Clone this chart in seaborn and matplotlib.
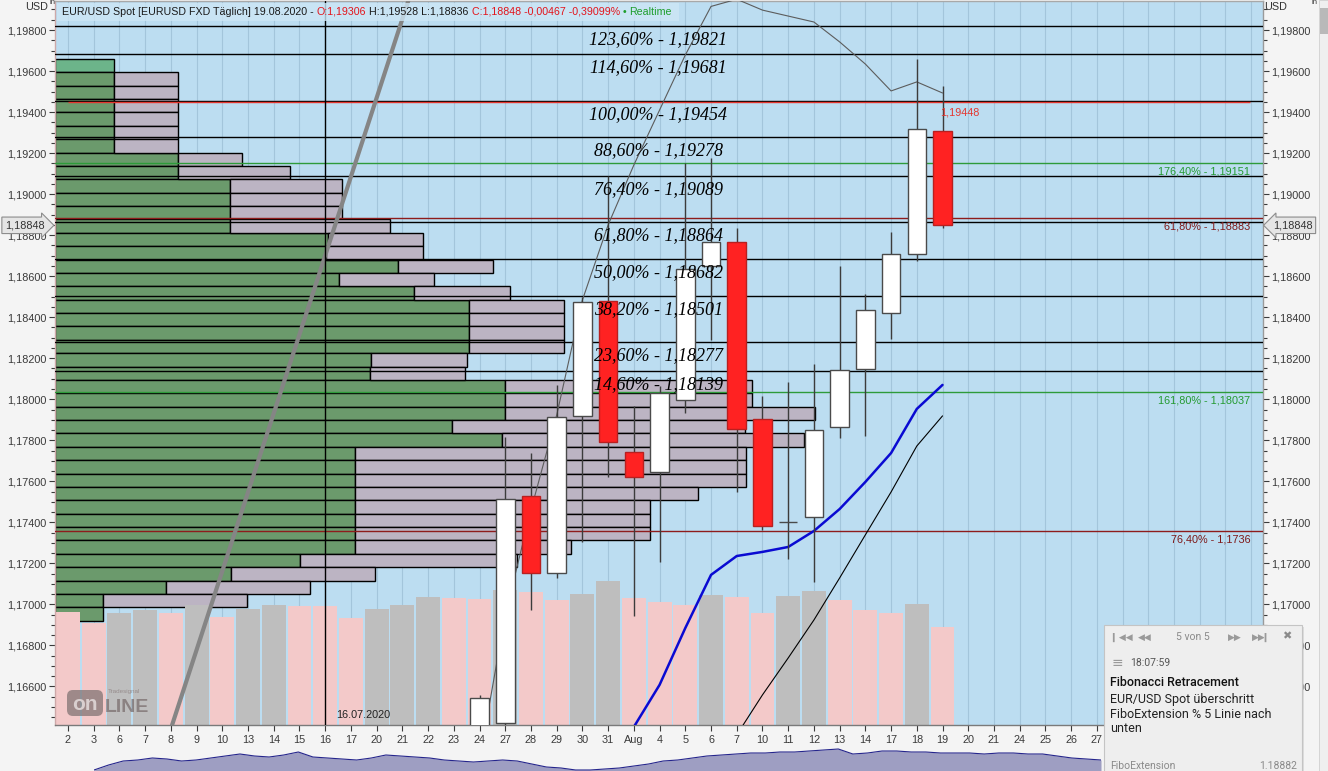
import matplotlib
matplotlib.use("Agg")
import matplotlib.pyplot as plt
import matplotlib.transforms as mtransforms
from matplotlib.patches import Rectangle, FancyBboxPatch
from matplotlib.ticker import MultipleLocator, FuncFormatter
import seaborn as sns

# ---------------- data ----------------
day_labels = ['2', '3', '6', '7', '8', '9', '10', '13', '14', '15', '16', '17', '20', '21', '22', '23',
              '24', '27', '28', '29', '30', '31', 'Aug', '4', '5', '6', '7', '10', '11', '12', '13', '14',
              '17', '18', '19', '20', '21', '24', '25', '26', '27', '28', '31', 'Sep', '2', '3', '4']

# daily candles 24.07. - 19.08.2020
candle_idx = list(range(16, 35))
opens = [1.15950, 1.16420, 1.17530, 1.17152, 1.17918, 1.18479, 1.17743, 1.17645, 1.17996, 1.18650,
         1.18767, 1.17904, 1.17402, 1.17426, 1.17865, 1.18148, 1.18421, 1.18710, 1.19306]
highs = [1.16558, 1.17816, 1.17738, 1.18070, 1.18499, 1.19088, 1.17967, 1.18065, 1.19152, 1.19176,
         1.18835, 1.18016, 1.18084, 1.18172, 1.18650, 1.18513, 1.18817, 1.19659, 1.19528]
lows = [1.15920, 1.16400, 1.16973, 1.17129, 1.17306, 1.17623, 1.16945, 1.17208, 1.17933, 1.18289,
        1.17548, 1.17363, 1.17221, 1.17109, 1.17811, 1.17821, 1.18294, 1.18672, 1.18836]
closes = [1.16544, 1.17512, 1.17152, 1.17915, 1.18474, 1.17790, 1.17621, 1.18031, 1.18635, 1.18767,
          1.17855, 1.17382, 1.17402, 1.17850, 1.18143, 1.18433, 1.18710, 1.19317, 1.18848]

# daily volume 02.07. - 19.08.
volume = [113, 102, 112, 115, 112, 120, 108, 116, 120, 119.5, 119, 107, 116, 120, 128, 127, 126, 135,
          133, 125, 131, 144, 127, 123, 120, 130, 128, 112, 129, 134, 125, 115, 112, 121, 98]

# volume profile, 42 price bins from the top (1,19659) to the bottom (1,16921)
profile_top = 1.19659
profile_bottom = 1.16921
profile_green = [59, 59, 59, 59, 59, 59, 59, 123, 123, 175, 175, 175, 175, 273, 271, 343, 284, 359,
                 414, 414, 414, 414, 316, 315, 450, 450, 450, 397, 447, 300, 300, 300, 300, 300, 300,
                 300, 300, 245, 176, 111, 48, 48]
profile_grey = [0, 64, 64, 64, 64, 64, 64, 64, 112, 112, 112, 112, 160, 95, 97, 95, 95, 96,
                95, 95, 95, 95, 96, 95, 247, 247, 310, 293, 302, 391, 391, 391, 343, 295, 295,
                295, 216, 217, 144, 144, 144, 0]

# Fibonacci retracement
fib_levels = [1.19821, 1.19681, 1.19454, 1.19278, 1.19089, 1.18864, 1.18682, 1.18501, 1.18277, 1.18139]
fib_pcts = ['123,60%', '114,60%', '100,00%', '88,60%', '76,40%', '61,80%', '50,00%', '38,20%',
            '23,60%', '14,60%']
# Fibonacci extension (green) and second retracement (dark red)
ext_levels = [1.19151, 1.18037]
ext_labels = ['176,40% - 1,19151', '161,80% - 1,18037']
ret_levels = [1.18883, 1.17360]
ret_labels = ['61,80% - 1,18883', '76,40% - 1,1736']
alert_level = 1.19448
last_close = 1.18848

# indicator lines
upper_idx = list(range(16, 35))
upper_vals = [1.16242, 1.16949, 1.17460, 1.17923, 1.18484, 1.18850, 1.19142, 1.19410, 1.19678, 1.19915,
              1.19950, 1.19897, 1.19868, 1.19839, 1.19742, 1.19634, 1.19503, 1.19547, 1.19493]
blue_idx = list(range(22, 35))
blue_vals = [1.16403, 1.16608, 1.16885, 1.17144, 1.17236, 1.17256, 1.17280, 1.17358, 1.17465, 1.17597,
             1.17738, 1.17953, 1.18070]
black_idx = list(range(26, 35))
black_vals = [1.16364, 1.16559, 1.16739, 1.16924, 1.17129, 1.17339, 1.17548, 1.17772, 1.17919]
trend_idx = [4, 13]
trend_vals = [1.16394, 1.19854]

# overview strip at the bottom
nav_vals = [1, 6, 10, 11, 13, 12, 10, 11, 13, 15, 17, 15, 14, 16, 19, 14, 13, 12, 11, 13, 16, 15, 14,
            13, 11, 10, 9, 10, 11, 10, 7, 4, 3, 1, 1, 2, 3, 5, 7, 10, 11, 13, 15, 16, 17, 18, 18, 19,
            19, 20, 21, 22, 17, 18, 20, 20, 19, 19, 18, 18, 18, 17, 18, 18, 17, 17, 15, 13, 12, 11]

# ---------------- style ----------------
sns.set_theme(style='white')
plt.rcParams['font.family'] = ['Liberation Sans', 'DejaVu Sans']
plt.rcParams['axes.linewidth'] = 1.0

W, H = 1328, 771
fig = plt.figure(figsize=(W / 100, H / 100), dpi=100, facecolor='#F4F4F4')
PW, PH = 1207.5, 724
ax = fig.add_axes([55 / W, 46 / H, PW / W, PH / H])
ax.set_facecolor('#BCDDF1')

ax.set_xlim(-0.505, 46.44)
ax.set_ylim(1.164122, 1.199414)

# grid at every trading day
ax.set_xticks(range(len(day_labels)))
ax.set_xticklabels(day_labels)
ax.grid(axis='x', color='#A3C5DB', lw=0.8)
ax.set_axisbelow(True)

# volume profile (width in pixels of the plot)
n_bins = len(profile_green)
bin_h = (profile_top - profile_bottom) / n_bins
centers = [profile_top - bin_h * (k + 0.5) for k in range(n_bins)]
prof_tr = mtransforms.blended_transform_factory(
    mtransforms.Affine2D().scale(1 / PW, 1) + ax.transAxes, ax.transData)
green_cols = ['#6CB48A'] + ['#6B9A6C'] * (n_bins - 1)
ax.barh(centers, profile_green, height=bin_h, left=0, color=green_cols, edgecolor='black',
        linewidth=1, transform=prof_tr, zorder=1)
ax.barh(centers, profile_grey, height=bin_h, left=profile_green, color='#BCB4C3',
        edgecolor=['none' if g == 0 else 'black' for g in profile_grey], linewidth=1,
        transform=prof_tr, zorder=1)

# volume bars, grey when volume rises, pink when it falls
vol_tr = mtransforms.blended_transform_factory(
    ax.transData, mtransforms.Affine2D().scale(1, 1 / PH) + ax.transAxes)
vol_cols = ['#F3C9C9'] + ['#BEBEBE' if volume[k] > volume[k - 1] else '#F3C9C9'
                          for k in range(1, len(volume))]
ax.bar(range(len(volume)), volume, width=0.93, bottom=0, color=vol_cols, edgecolor='none',
       linewidth=0, transform=vol_tr, zorder=1.5)

# horizontal levels
for p in fib_levels:
    ax.axhline(p, color='black', lw=1, zorder=3)
for p in ext_levels:
    ax.axhline(p, color='#2E9B3A', lw=1, zorder=3)
for p in ret_levels:
    ax.axhline(p, color='#8E1C1C', lw=1, zorder=3)
ax.hlines(alert_level, 0, 45.96, color='#E5362F', lw=1, zorder=3)

# crosshair
ax.axvline(10, color='black', lw=1, zorder=3.5)

# trend line and indicators
ax.axline((trend_idx[0], trend_vals[0]), (trend_idx[1], trend_vals[1]), color='#858585', lw=3,
          zorder=3.4)
sns.lineplot(x=upper_idx, y=upper_vals, ax=ax, color='#5C5C5C', lw=0.8, zorder=3.3)
sns.lineplot(x=black_idx, y=black_vals, ax=ax, color='black', lw=0.8, zorder=3.3)
sns.lineplot(x=blue_idx, y=blue_vals, ax=ax, color='#0A0AD2', lw=1.8, zorder=3.3)

# candles
ax.vlines(candle_idx, lows, highs, color='#3C3C3C', lw=1, zorder=4)
bottoms = [min(o, c) for o, c in zip(opens, closes)]
heights = [max(abs(c - o), 0.00002) for o, c in zip(opens, closes)]
fills = ['white' if c >= o else '#FF2222' for o, c in zip(opens, closes)]
edges = ['#4A4A4A' if c >= o else '#B82020' for o, c in zip(opens, closes)]
ax.bar(candle_idx, heights, bottom=bottoms, width=0.72, color=fills, edgecolor=edges, lw=1, zorder=5)

# level labels
fib_tr = mtransforms.offset_copy(ax.transData, fig=fig, x=0, y=-13.5, units='dots')
for p, pct in zip(fib_levels, fib_pcts):
    ax.text(22.94, p, f'{pct} - {p:.5f}'.replace('.', ','), transform=fib_tr, ha='center', va='center',
            fontsize=13, style='italic', family=['Liberation Serif', 'DejaVu Serif'], color='black',
            zorder=6)
small_tr = mtransforms.offset_copy(ax.transData, fig=fig, x=0, y=-8.5, units='dots')
for p, lab in zip(ext_levels, ext_labels):
    ax.text(45.96, p, lab, transform=small_tr, ha='right', va='center', fontsize=7.8, color='#239A30',
            zorder=6)
for p, lab in zip(ret_levels, ret_labels):
    ax.text(45.96, p, lab, transform=small_tr, ha='right', va='center', fontsize=7.8, color='#7E1818',
            zorder=6)
alert_tr = mtransforms.offset_copy(ax.transData, fig=fig, x=0, y=-10, units='dots')
ax.text(33.9, alert_level, f'{alert_level:.5f}'.replace('.', ','), transform=alert_tr, ha='left',
        va='center', fontsize=7.8, color='#E5362F', zorder=6)

date_tr = mtransforms.offset_copy(
    mtransforms.blended_transform_factory(ax.transData, ax.transAxes), fig=fig, x=11, y=10, units='dots')
ax.text(10, 0, '16.07.2020', transform=date_tr, ha='left', va='center', fontsize=7.8, color='#222222',
        zorder=6)

# axes styling
ax.yaxis.set_major_locator(MultipleLocator(0.002))
ax.yaxis.set_minor_locator(MultipleLocator(0.0005))
ax.yaxis.set_major_formatter(FuncFormatter(lambda v, pos: f'{v:.5f}'.replace('.', ',')))
ax.tick_params(axis='y', which='both', left=True, right=True, labelleft=True, labelright=True,
               direction='out', colors='#3A3A3A', labelsize=7.8, pad=2)
ax.tick_params(axis='y', which='major', length=4, width=0.8)
ax.tick_params(axis='y', which='minor', length=3, width=0.8)
ax.tick_params(axis='x', which='major', bottom=True, direction='out', length=4, width=0.8,
               colors='#3A3A3A', labelsize=7.8, pad=3)
ax.set_xlabel('')
ax.set_ylabel('')
for side, col in [('left', '#CDA9A9'), ('right', '#9A9A9A'), ('top', '#A8A8A8'), ('bottom', '#7A7A7A')]:
    ax.spines[side].set_color(col)
    ax.spines[side].set_linewidth(1)

# last price tags on both axes
tag_tr = mtransforms.blended_transform_factory(ax.transAxes, ax.transData)
tag_txt = f'{last_close:.5f}'.replace('.', ',')
ax.text(-0.0085, last_close, tag_txt, transform=tag_tr, ha='right', va='center', fontsize=7.8,
        color='#333333', clip_on=False, zorder=10,
        bbox=dict(boxstyle='rarrow,pad=0.3', fc='#E5E5E5', ec='#8C8C8C', lw=0.8))
ax.text(1.0085, last_close, tag_txt, transform=tag_tr, ha='left', va='center', fontsize=7.8,
        color='#333333', clip_on=False, zorder=10,
        bbox=dict(boxstyle='larrow,pad=0.3', fc='#E5E5E5', ec='#8C8C8C', lw=0.8))

# overview strip
nav = fig.add_axes([94 / W, 0, 1007 / W, 31 / H])
nav.set_facecolor('#F4F4F4')
nav.fill_between(range(len(nav_vals)), nav_vals, 0, color='#9E9EC2', lw=0)
nav.plot(range(len(nav_vals)), nav_vals, color='#25258C', lw=0.8)
nav.set_xlim(0, len(nav_vals) - 1)
nav.set_ylim(0, 31)
nav.axis('off')

# ---------------- overlay in pixel coordinates ----------------
ov = fig.add_axes([0, 0, 1, 1], zorder=20)
ov.set_xlim(0, W)
ov.set_ylim(H, 0)
ov.axis('off')
ov.patch.set_alpha(0)

# header
ov.add_patch(Rectangle((57, 3), 622, 18, fc='#CDE6F5', ec='none', alpha=0.8))
pieces = [('EUR/USD Spot [EURUSD FXD Täglich] 19.08.2020 -', '#1A1A1A'), ('O:1,19306', '#E3141B'),
          ('H:1,19528 L:1,18836', '#1A1A1A'), ('C:1,18848 -0,00467 -0,39099%', '#E3141B'),
          ('•', '#1E9E2B'), ('Realtime', '#1E9E2B')]
prev = ov.text(62, 12, pieces[0][0], color=pieces[0][1], fontsize=7.7, ha='left', va='center')
for txt, col in pieces[1:]:
    prev = ov.annotate(txt, xy=(1, 0), xycoords=prev, xytext=(3, 0), textcoords='offset pixels',
                       color=col, fontsize=7.7, ha='left', va='bottom')

ov.text(48, 7, 'USD', ha='right', va='center', fontsize=7.8, color='#333333')
ov.text(50, 3, 'ln', ha='left', va='center', fontsize=5.5, color='#333333')
ov.text(1264, 7, 'USD', ha='left', va='center', fontsize=7.8, color='#333333')
ov.text(1312, 3, 'ln', ha='left', va='center', fontsize=5.5, color='#333333')
ov.add_patch(Rectangle((1319, 0), 9, H, fc='#EFEFEF', ec='#D0D0D0', lw=0.6))
ov.add_patch(Rectangle((1320, 8), 8, 26, fc='#B9B9B9', ec='none'))

# logo
ov.add_patch(FancyBboxPatch((67, 690), 36, 26, boxstyle='round,pad=0,rounding_size=6', fc='#7A6E6E',
                            ec='none', alpha=0.7))
ov.text(85, 704, 'on', ha='center', va='center', fontsize=15, weight='bold', color='#D9CFCF')
ov.text(105, 707, 'LINE', ha='left', va='center', fontsize=14, weight='bold', color='#7A6E6E',
        alpha=0.75)
ov.text(108, 692, 'Tradesignal', ha='left', va='center', fontsize=4.5, color='#8C8080', alpha=0.8)

# notification popup
ov.add_patch(Rectangle((1106, 627), 198, 150, fc='#CFCFCF', ec='none', alpha=0.6))
ov.add_patch(Rectangle((1104, 625), 198, 150, fc='#EEEEEE', ec='#C4C4C4', lw=0.8))
icon = dict(fontsize=6.5, color='#9A9A9A', va='center', family='DejaVu Sans')
ov.text(1112, 637, '▎◀◀', ha='left', **icon)
ov.text(1138, 637, '◀◀', ha='left', **icon)
ov.text(1193, 637, '5 von 5', ha='center', va='center', fontsize=7.5, color='#8A8A8A', family='Roboto')
ov.text(1228, 637, '▶▶', ha='left', **icon)
ov.text(1252, 637, '▶▶▎', ha='left', **icon)
ov.text(1287, 636, '✖', ha='center', va='center', fontsize=8, color='#8A8A8A', family='DejaVu Sans')
ov.text(1112, 663, '≡', ha='left', va='center', fontsize=10, color='#9A9A9A', family='DejaVu Sans')
ov.text(1130, 663, '18:07:59', ha='left', va='center', fontsize=7.5, color='#555555', family='Roboto')
ov.text(1110, 683, 'Fibonacci Retracement', ha='left', va='center', fontsize=9, color='#111111',
        family='Roboto', weight='medium')
for k, line in enumerate(['EUR/USD Spot überschritt', 'FiboExtension % 5 Linie nach', 'unten']):
    ov.text(1110, 700 + 14.5 * k, line, ha='left', va='center', fontsize=9, color='#222222',
            family='Roboto')
ov.text(1110, 766, 'FiboExtension', ha='left', va='center', fontsize=7.5, color='#8A8A8A', family='Roboto')
ov.text(1297, 766, '1.18882', ha='right', va='center', fontsize=7.5, color='#8A8A8A', family='Roboto')

fig.savefig('out.png', dpi=100, facecolor=fig.get_facecolor())
